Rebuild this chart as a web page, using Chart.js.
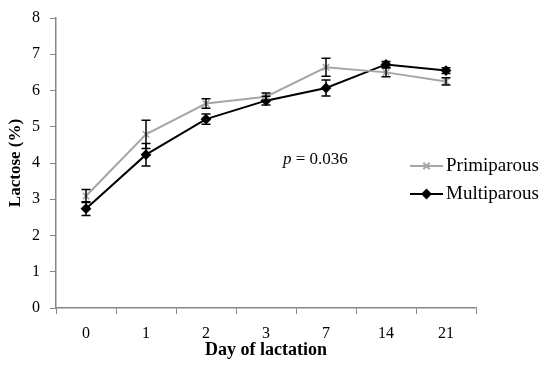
<!DOCTYPE html>
<html>
<head>
<meta charset="utf-8">
<script src="https://cdn.jsdelivr.net/npm/chart.js@4"></script>
<style>
  html, body { margin: 0; padding: 0; background: #fff; }
  #wrap { width: 550px; height: 367px; position: relative; }
</style>
</head>
<body>
<div id="wrap"><canvas id="chart"></canvas></div>
<script>
const days = ['0', '1', '2', '3', '7', '14', '21'];
const primiparous = [3.09, 4.79, 5.64, 5.83, 6.64, 6.50, 6.25];
const primiparousErr = [0.18, 0.39, 0.13, 0.10, 0.25, 0.12, 0.10];
const multiparous = [2.74, 4.23, 5.21, 5.72, 6.07, 6.72, 6.55];
const multiparousErr = [0.19, 0.31, 0.14, 0.12, 0.22, 0.08, 0.08];

const axisColor = '#868686';
const font = 'Liberation Serif';

// error bars drawn from the y scale
const errorBars = {
    id: 'errorBars',
    afterDatasetsDraw(chart) {
        const ctx = chart.ctx;
        const y = chart.scales.y;
        const errs = [primiparousErr, multiparousErr];
        ctx.save();
        ctx.strokeStyle = '#000';
        ctx.lineWidth = 1.5;
        chart.data.datasets.forEach((ds, i) => {
            const meta = chart.getDatasetMeta(i);
            meta.data.forEach((pt, j) => {
                const top = y.getPixelForValue(ds.data[j] + errs[i][j]);
                const bot = y.getPixelForValue(ds.data[j] - errs[i][j]);
                ctx.beginPath();
                ctx.moveTo(pt.x, top); ctx.lineTo(pt.x, bot);
                ctx.moveTo(pt.x - 4.5, top); ctx.lineTo(pt.x + 4.5, top);
                ctx.moveTo(pt.x - 4.5, bot); ctx.lineTo(pt.x + 4.5, bot);
                ctx.stroke();
            });
        });
        ctx.restore();
    }
};

// legend and p value annotation
const annotations = {
    id: 'annotations',
    afterDraw(chart) {
        const ctx = chart.ctx;
        ctx.save();
        ctx.textBaseline = 'middle';
        ctx.fillStyle = '#000';
        ctx.font = 'italic 17px "' + font + '"';
        ctx.fillText('p', 283, 160);
        const pw = ctx.measureText('p').width;
        ctx.font = '17px "' + font + '"';
        ctx.fillText(' = 0.036', 283 + pw, 160);

        const items = [
            { label: 'Primiparous', ds: chart.data.datasets[0], y: 166 },
            { label: 'Multiparous', ds: chart.data.datasets[1], y: 194 }
        ];
        items.forEach(it => {
            ctx.strokeStyle = it.ds.borderColor;
            ctx.lineWidth = 2;
            ctx.beginPath();
            ctx.moveTo(410, it.y); ctx.lineTo(443, it.y);
            ctx.stroke();
            Chart.helpers.drawPoint(ctx, {
                pointStyle: it.ds.pointStyle,
                radius: it.ds.pointRadius,
                borderWidth: 1.5
            }, 426.5, it.y);
            ctx.fillStyle = '#000';
            ctx.font = '19px "' + font + '"';
            ctx.fillText(it.label, 446, it.y);
        });
        ctx.restore();
    }
};

new Chart(document.getElementById('chart'), {
    type: 'line',
    data: {
        labels: days,
        datasets: [
            {
                label: 'Primiparous',
                data: primiparous,
                borderColor: '#a6a6a6',
                backgroundColor: '#a6a6a6',
                borderWidth: 2,
                pointStyle: 'crossRot',
                pointRadius: 4.5,
                pointBorderWidth: 1.5,
                tension: 0
            },
            {
                label: 'Multiparous',
                data: multiparous,
                borderColor: '#000',
                backgroundColor: '#000',
                borderWidth: 2,
                pointStyle: 'rectRot',
                pointRadius: 4,
                tension: 0
            }
        ]
    },
    options: {
        responsive: true,
        maintainAspectRatio: false,
        animation: false,
        layout: { padding: { top: 15, right: 74, left: 0, bottom: 0 } },
        plugins: {
            legend: { display: false },
            tooltip: { enabled: false }
        },
        scales: {
            x: {
                offset: true,
                grid: {
                    offset: true,
                    drawOnChartArea: false,
                    color: axisColor,
                    tickLength: 6
                },
                border: { color: axisColor, width: 1.5 },
                ticks: { color: '#000', font: { family: font, size: 16 }, padding: 10 },
                title: {
                    display: true,
                    text: 'Day of lactation',
                    color: '#000',
                    font: { family: font, size: 18, weight: 'bold' },
                    padding: { top: 0, bottom: 6 }
                },
                afterFit: s => { s.height = 59; }
            },
            y: {
                min: 0,
                max: 8,
                ticks: { stepSize: 1, color: '#000', font: { family: font, size: 16, lineHeight: 1 }, padding: 10 },
                grid: { drawOnChartArea: false, color: axisColor, tickLength: 6 },
                border: { color: axisColor, width: 1.5 },
                title: {
                    display: true,
                    text: 'Lactose (%)',
                    color: '#000',
                    font: { family: font, size: 17, weight: 'bold' },
                    padding: { top: 5, bottom: 4 }
                },
                afterFit: s => { s.width = 56; }
            }
        }
    },
    plugins: [errorBars, annotations]
});
</script>
</body>
</html>
